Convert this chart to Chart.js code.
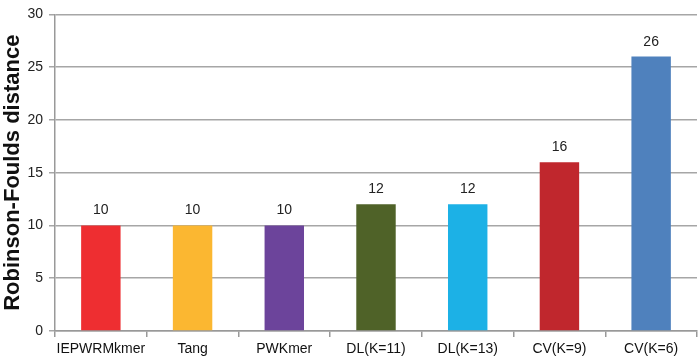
<!DOCTYPE html>
<html>
<head>
<meta charset="utf-8">
<script src="https://cdn.jsdelivr.net/npm/chart.js@4.4.1/dist/chart.umd.min.js"></script>
<style>
html,body{margin:0;padding:0;background:#fff;}
#wrap{width:699px;height:361px;position:relative;}
</style>
</head>
<body>
<div id="wrap"><canvas id="c" width="699" height="361"></canvas></div>
<script>
const categories = ["IEPWRMkmer","Tang","PWKmer","DL(K=11)","DL(K=13)","CV(K=9)","CV(K=6)"];
const values = [10,10,10,12,12,16,26];
const barColors = ["#EE2E31","#FBB731","#6C449B","#4F6228","#1CB1E6","#C0272D","#4F81BD"];
const yTicks = [0,5,10,15,20,25,30];
const yTitle = "Robinson-Foulds distance";

const valueLabels = {
  id:'valueLabels',
  afterDatasetsDraw(chart){
    const ctx = chart.ctx;
    const meta = chart.getDatasetMeta(0);
    ctx.save();
    ctx.font = '14px "Liberation Sans", Arial, sans-serif';
    ctx.fillStyle = '#222';
    ctx.textAlign = 'center';
    ctx.textBaseline = 'alphabetic';
    meta.data.forEach((el,i)=>{
      ctx.fillText(String(values[i]), el.x, el.y - 11);
    });
    ctx.restore();
  }
};

new Chart(document.getElementById('c'),{
  type:'bar',
  data:{labels:categories,datasets:[{data:values,backgroundColor:barColors,borderWidth:0,categoryPercentage:0.86,barPercentage:0.5}]},
  options:{
    responsive:false,animation:false,
    layout:{padding:{top:7,right:2,left:0,bottom:0}},
    plugins:{legend:{display:false},tooltip:{enabled:false}},
    scales:{
      x:{
        offset:true,
        grid:{display:true,drawOnChartArea:false,offset:true,color:'#999',lineWidth:1.5,tickLength:6},
        border:{color:'#999',width:1.5},
        ticks:{color:'#111',font:{family:'"Liberation Sans", Arial, sans-serif',size:14},padding:4,maxRotation:0,autoSkip:false},
        afterFit(s){s.height=30;}
      },
      y:{
        min:0,max:30,
        afterBuildTicks(s){s.ticks=yTicks.map(v=>({value:v}));},
        grid:{color:'#A6A6A6',lineWidth:1.5,tickLength:6},
        border:{color:'#999',width:1.5},
        ticks:{color:'#222',font:{family:'"Liberation Sans", Arial, sans-serif',size:14},padding:6},
        title:{display:true,text:yTitle,color:'#111',font:{family:'"Liberation Sans", Arial, sans-serif',size:22,weight:'bold'},padding:{top:0,bottom:3}},
        afterFit(s){s.width=55;}
      }
    }
  },
  plugins:[valueLabels]
});
</script>
</body>
</html>
